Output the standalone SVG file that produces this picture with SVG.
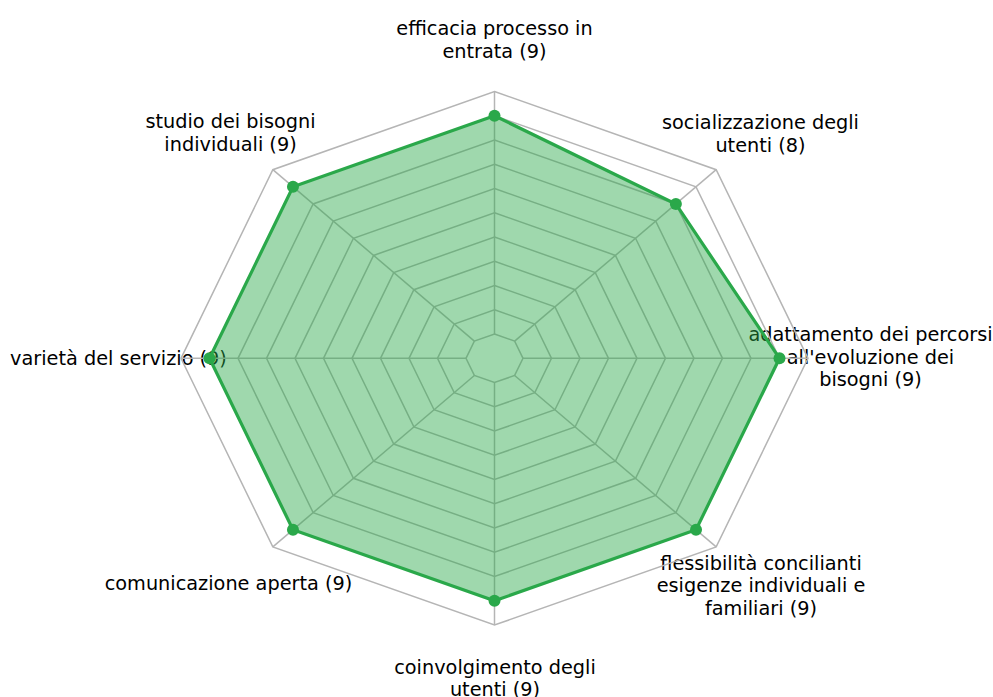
<svg xmlns="http://www.w3.org/2000/svg" width="993" height="697" viewBox="0 0 993 697">
  <style>
    .lbl { font-family: "DejaVu Sans", "Liberation Sans", sans-serif; font-size: 19.3px; fill: #000; text-anchor: middle; }
    .ring { fill: none; stroke: #b5b5b5; stroke-width: 1.5; stroke-linejoin: miter; }
    .spoke { stroke: #b5b5b5; stroke-width: 1.5; }
    .area { fill: #2aa84a; fill-opacity: 0.45; stroke: none; }
    .line { fill: none; stroke: #2aa84a; stroke-width: 3.2; stroke-linejoin: miter; }
    .dot { fill: #2aa84a; }
  </style>
  <rect width="993" height="697" fill="#ffffff"/>

  <g id="labels">
    <g id="node-efficacia"><text class="lbl" x="494.5" y="35">efficacia processo in</text><text class="lbl" x="494.5" y="57.5">entrata (9)</text></g>
    <g id="node-socializzazione"><text class="lbl" x="760.5" y="129">socializzazione degli</text><text class="lbl" x="760.5" y="151.5">utenti (8)</text></g>
    <g id="node-adattamento"><text class="lbl" x="870.5" y="341">adattamento dei percorsi</text><text class="lbl" x="870.5" y="363.5">all'evoluzione dei</text><text class="lbl" x="870.5" y="386">bisogni (9)</text></g>
    <g id="node-flessibilita"><text class="lbl" x="761" y="569.5">flessibilità concilianti</text><text class="lbl" x="761" y="592">esigenze individuali e</text><text class="lbl" x="761" y="614.5">familiari (9)</text></g>
    <g id="node-coinvolgimento"><text class="lbl" x="495" y="673.5">coinvolgimento degli</text><text class="lbl" x="495" y="696">utenti (9)</text></g>
    <g id="node-comunicazione"><text class="lbl" x="228.5" y="590">comunicazione aperta (9)</text></g>
    <g id="node-varieta"><text class="lbl" x="118.5" y="365">varietà del servizio (9)</text></g>
    <g id="node-studio"><text class="lbl" x="230.5" y="128">studio dei bisogni</text><text class="lbl" x="230.5" y="150.5">individuali (9)</text></g>
  </g>

  <g id="grid">
    <polygon class="ring" points="494.5,334.05 514.65,341.15 523,358.3 514.65,375.45 494.5,382.55 474.35,375.45 466,358.3 474.35,341.15"/>
    <polygon class="ring" points="494.5,309.8 534.8,324.01 551.5,358.3 534.8,392.59 494.5,406.8 454.2,392.59 437.5,358.3 454.2,324.01"/>
    <polygon class="ring" points="494.5,285.55 554.96,306.86 580,358.3 554.96,409.74 494.5,431.05 434.04,409.74 409,358.3 434.04,306.86"/>
    <polygon class="ring" points="494.5,261.3 575.11,289.71 608.5,358.3 575.11,426.89 494.5,455.3 413.89,426.89 380.5,358.3 413.89,289.71"/>
    <polygon class="ring" points="494.5,237.05 595.26,272.56 637,358.3 595.26,444.04 494.5,479.55 393.74,444.04 352,358.3 393.74,272.56"/>
    <polygon class="ring" points="494.5,212.8 615.41,255.42 665.5,358.3 615.41,461.18 494.5,503.8 373.59,461.18 323.5,358.3 373.59,255.42"/>
    <polygon class="ring" points="494.5,188.55 635.56,238.27 694,358.3 635.56,478.33 494.5,528.05 353.44,478.33 295,358.3 353.44,238.27"/>
    <polygon class="ring" points="494.5,164.3 655.72,221.12 722.5,358.3 655.72,495.48 494.5,552.3 333.28,495.48 266.5,358.3 333.28,221.12"/>
    <polygon class="ring" points="494.5,140.05 675.87,203.98 751,358.3 675.87,512.62 494.5,576.55 313.13,512.62 238,358.3 313.13,203.98"/>
    <polygon class="ring" points="494.5,115.8 696.02,186.83 779.5,358.3 696.02,529.77 494.5,600.8 292.98,529.77 209.5,358.3 292.98,186.83"/>
    <polygon class="ring" points="494.5,91.55 716.17,169.68 808,358.3 716.17,546.92 494.5,625.05 272.83,546.92 181,358.3 272.83,169.68"/>
  </g>

  <g id="connectors">
    <line class="spoke" x1="494.5" y1="334.05" x2="494.5" y2="91.55"/>
    <line class="spoke" x1="514.65" y1="341.15" x2="716.17" y2="169.68"/>
    <line class="spoke" x1="523" y1="358.3" x2="808" y2="358.3"/>
    <line class="spoke" x1="514.65" y1="375.45" x2="716.17" y2="546.92"/>
    <line class="spoke" x1="494.5" y1="382.55" x2="494.5" y2="625.05"/>
    <line class="spoke" x1="474.35" y1="375.45" x2="272.83" y2="546.92"/>
    <line class="spoke" x1="466" y1="358.3" x2="181" y2="358.3"/>
    <line class="spoke" x1="474.35" y1="341.15" x2="272.83" y2="169.68"/>
  </g>

  <g id="series">
    <polygon class="area" points="494.5,115.8 675.87,203.98 779.5,358.3 696.02,529.77 494.5,600.8 292.98,529.77 209.5,358.3 292.98,186.83"/>
    <polygon class="line" points="494.5,115.8 675.87,203.98 779.5,358.3 696.02,529.77 494.5,600.8 292.98,529.77 209.5,358.3 292.98,186.83"/>
    <circle class="dot" cx="494.5" cy="115.8" r="6"/>
    <circle class="dot" cx="675.87" cy="203.98" r="6"/>
    <circle class="dot" cx="779.5" cy="358.3" r="6"/>
    <circle class="dot" cx="696.02" cy="529.77" r="6"/>
    <circle class="dot" cx="494.5" cy="600.8" r="6"/>
    <circle class="dot" cx="292.98" cy="529.77" r="6"/>
    <circle class="dot" cx="209.5" cy="358.3" r="6"/>
    <circle class="dot" cx="292.98" cy="186.83" r="6"/>
  </g>
</svg>
